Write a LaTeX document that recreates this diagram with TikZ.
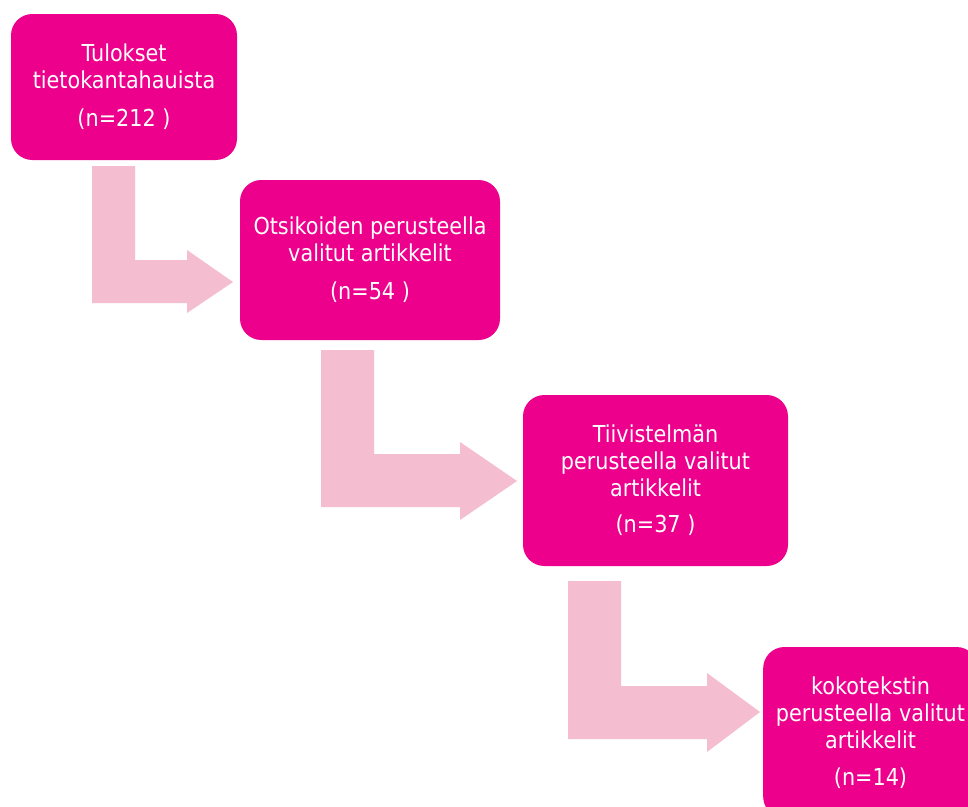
\documentclass[tikz,border=0pt]{standalone}
\usepackage{fontspec}
\setmainfont{DejaVu Sans}[FakeStretch=0.89]
\definecolor{boxmag}{HTML}{EC008C}
\definecolor{arrpink}{HTML}{F5BDD0}
\begin{document}
\begin{tikzpicture}[x=0.75pt,y=-0.75pt,
  stagebox/.style={fill=boxmag, rounded corners=16pt, text=white, align=center,
    font=\fontsize{17.5}{20.25}\selectfont, inner sep=0pt},
  bentarrow/.style={fill=arrpink}]
\useasboundingbox (0,0) rectangle (968,807);
\clip (0,0) rectangle (968,807);
\fill[white] (0,0) rectangle (968,807);
% bent arrows
\fill[bentarrow] (92,166) -- (135,166) -- (135,260) -- (187,260) -- (187,250) -- (233,282) -- (187,313) -- (187,303) -- (92,303) -- cycle;
\fill[bentarrow] (321,350) -- (374,350) -- (374,454) -- (460,454) -- (460,442) -- (517,481) -- (460,520) -- (460,507) -- (321,507) -- cycle;
\fill[bentarrow] (568,581) -- (621,581) -- (621,686) -- (707,686) -- (707,673) -- (760,712) -- (707,752) -- (707,739) -- (568,739) -- cycle;
% boxes
\node[stagebox, minimum width=169.5pt, minimum height=109.5pt] (b1) at (124,87)
  {Tulokset\\tietokantahauista\\[8pt](n=212 )};
\node[stagebox, minimum width=195pt, minimum height=120pt] (b2) at (370,260)
  {Otsikoiden perusteella\\valitut artikkelit\\[8pt](n=54 )};
\node[stagebox, minimum width=198.75pt, minimum height=128.25pt] (b3) at (655.5,480.5)
  {Tiivistelmän\\perusteella valitut\\artikkelit\\[7pt](n=37 )};
\node[stagebox, minimum width=161pt, minimum height=128.25pt] (b4) at (870.5,732.5)
  {kokotekstin\\perusteella valitut\\artikkelit\\[7pt](n=14)};
\end{tikzpicture}
\end{document}
